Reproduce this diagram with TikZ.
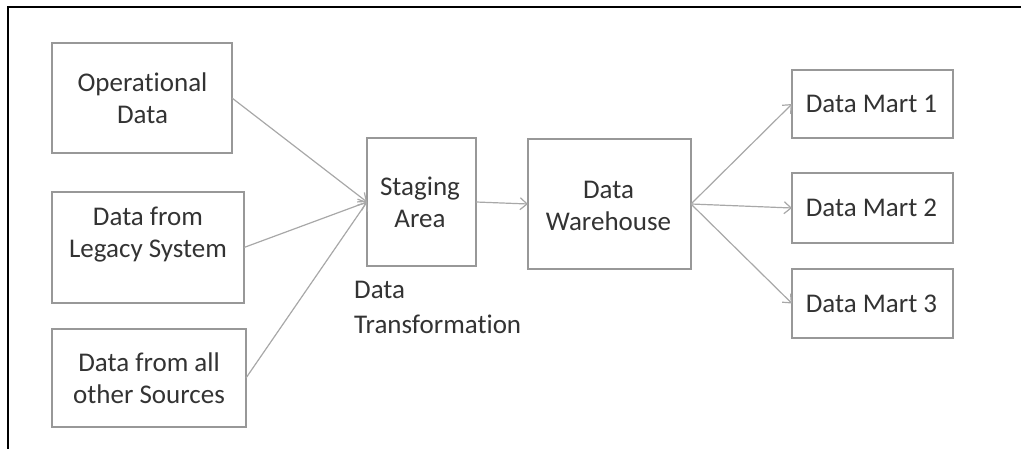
\documentclass[tikz,border=0pt]{standalone}
\usepackage{fontspec}
\setmainfont{Carlito}[Ligatures={NoCommon}]
\usetikzlibrary{arrows.meta}
\definecolor{boxline}{HTML}{989898}
\definecolor{flowline}{HTML}{A8A8A8}
\definecolor{ink}{HTML}{333333}
\tikzset{
  box/.style={draw=boxline, line width=2.2pt, inner sep=0pt, outer sep=0pt},
  txt/.style={inner sep=0pt, align=center, text=ink, font=\fontsize{27}{32}\selectfont},
  flow/.style={draw=flowline, line width=1.2pt, -{Straight Barb[length=7pt, width=12pt, line width=1.2pt]}},
  frame/.style={draw=black, line width=2pt}
}
\begin{document}
\begin{tikzpicture}[x=1pt, y=-1pt]
  \useasboundingbox (0,0) rectangle (1021,449);
  % open frame: top and left edges
  \coordinate (ftr) at (1021,7);
  \coordinate (ftl) at (8,7);
  \coordinate (fbl) at (8,449);
  \draw[frame] (ftr) -- (ftl) -- (fbl);

  % source boxes
  \node[box, minimum width=180pt, minimum height=110pt] (op)  at (142,98)    {};
  \node[box, minimum width=192pt, minimum height=111pt] (leg) at (148,247.5) {};
  \node[box, minimum width=194pt, minimum height=98pt]  (oth) at (149,378)   {};
  \node[txt] (opt)  at (142.5,98)  {Operational\\Data};
  \node[txt] (legt) at (148,235)   {Data from\\Legacy System};
  \node[txt] (otht) at (149,378)   {Data from all\\other Sources};

  % staging and warehouse
  \node[box, minimum width=109pt, minimum height=128pt] (stg) at (421.5,202) {};
  \node[box, minimum width=163pt, minimum height=130pt] (wh)  at (609.5,204) {};
  \node[txt] (stgt) at (420,202.5) {Staging\\Area};
  \node[txt] (wht)  at (608.5,205.5) {Data\\Warehouse};
  \node[txt, align=left, anchor=north west, font=\fontsize{27}{35}\selectfont] (tr) at (354,281) {Data\\Transformation};

  % data marts
  \node[box, minimum width=161pt, minimum height=68pt] (dm1) at (872.5,104)   {};
  \node[box, minimum width=161pt, minimum height=70pt] (dm2) at (872.5,208)   {};
  \node[box, minimum width=161pt, minimum height=69pt] (dm3) at (872.5,303.5) {};
  \node[txt] (dm1t) at (871.5,104)   {Data Mart 1};
  \node[txt] (dm2t) at (871.5,208)   {Data Mart 2};
  \node[txt] (dm3t) at (871.5,303.5) {Data Mart 3};

  % flows
  \draw[flow] (op.east)  -- (stg.west);
  \draw[flow] (leg.east) -- (stg.west);
  \draw[flow] (oth.east) -- (stg.west);
  \draw[flow] (stg.east) -- (wh.west);
  \draw[flow] (wh.east)  -- (dm1.west);
  \draw[flow] (wh.east)  -- (dm2.west);
  \draw[flow] (wh.east)  -- (dm3.west);
\end{tikzpicture}
\end{document}
